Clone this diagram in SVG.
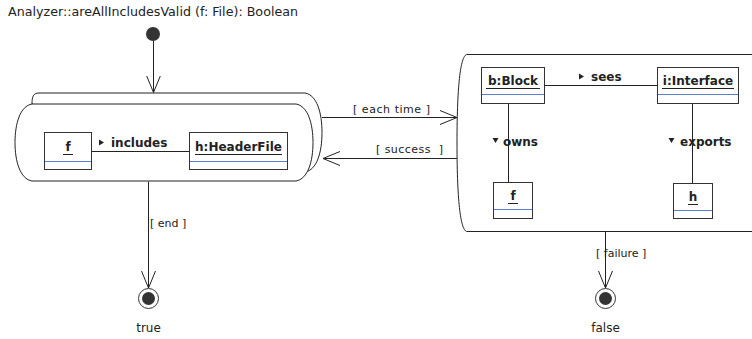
<svg xmlns="http://www.w3.org/2000/svg" width="752" height="339" viewBox="0 0 752 339">
  <style>
    .region { fill: #ffffff; stroke: #222222; stroke-width: 1; }
    .obj { fill: #ffffff; stroke: #333333; stroke-width: 1; }
    .sep { stroke: #5a7fd0; stroke-width: 1; }
    .ul { stroke: #222222; stroke-width: 1; }
    .link { stroke: #222222; stroke-width: 1; fill: none; }
    .flow { stroke: #222222; stroke-width: 1; fill: none; }
    .title { font-family: "DejaVu Sans", sans-serif; font-size: 12.5px; fill: #222222; }
    .name { font-family: "DejaVu Sans", sans-serif; font-weight: bold; font-size: 12px; fill: #222222; }
    .assoc { font-family: "DejaVu Sans", sans-serif; font-weight: bold; font-size: 12px; fill: #222222; }
    .guard { font-family: "DejaVu Sans", sans-serif; font-size: 11px; fill: #222222; }
    .state { font-family: "DejaVu Sans", sans-serif; font-size: 12px; fill: #222222; }
    .dot { fill: #333333; }
    .tri { fill: #222222; }
  </style>
  <defs>
    <marker id="open" viewBox="0 0 18 16" refX="17" refY="8" markerWidth="18" markerHeight="16" markerUnits="userSpaceOnUse" orient="auto">
      <path d="M0 1 L17 8 L0 15" fill="none" stroke="#222222" stroke-width="1"/>
    </marker>
  </defs>

  <rect width="752" height="339" fill="#ffffff"/>

  <text class="title" x="8" y="16" textLength="290" lengthAdjust="spacingAndGlyphs">Analyzer::areAllIncludesValid (f: File): Boolean</text>

  <!-- initial state -->
  <g id="initial">
    <circle class="dot" cx="153" cy="34" r="7"/>
  </g>

  <!-- expansion region iterating over includes -->
  <g id="includes-region">
    <path class="region" d="M32 104 C32 97 33 93 39 93 H305 C317 95 322 113 322 132.5 C322 152 317 170 305 172 H296 Z"/>
    <path class="region" d="M32 104 H296 C308 106 313 124 313 142.5 C313 161 308 179 296 181 H32 C20 179 15 161 15 142.5 C15 124 20 106 32 104 Z"/>
  </g>

  <g id="obj-f-left">
    <rect class="obj" x="44.5" y="132.5" width="47" height="37"/>
    <text class="name" x="68" y="151" text-anchor="middle">f</text>
    <line class="ul" x1="63" y1="154.5" x2="73" y2="154.5"/>
    <line class="sep" x1="45" y1="161.5" x2="91" y2="161.5"/>
  </g>

  <g id="obj-headerfile">
    <rect class="obj" x="189.5" y="132.5" width="98" height="37"/>
    <text class="name" x="238.5" y="151" text-anchor="middle">h:HeaderFile</text>
    <line class="ul" x1="195" y1="154.5" x2="282" y2="154.5"/>
    <line class="sep" x1="190" y1="161.5" x2="287" y2="161.5"/>
  </g>

  <!-- region evaluated for each include -->
  <g id="check-region">
    <path class="region" d="M467 54.5 H770 V231.5 H467 C461 231 457 205 457 143 C457 81 461 55 467 54.5 Z"/>
  </g>

  <g id="obj-block">
    <rect class="obj" x="481.5" y="67.5" width="63" height="36"/>
    <text class="name" x="513" y="85" text-anchor="middle">b:Block</text>
    <line class="ul" x1="486" y1="88.5" x2="540" y2="88.5"/>
    <line class="sep" x1="482" y1="94.5" x2="544" y2="94.5"/>
  </g>

  <g id="obj-interface">
    <rect class="obj" x="657.5" y="67.5" width="81" height="36"/>
    <text class="name" x="698" y="85" text-anchor="middle">i:Interface</text>
    <line class="ul" x1="662" y1="88.5" x2="734" y2="88.5"/>
    <line class="sep" x1="658" y1="94.5" x2="738" y2="94.5"/>
  </g>

  <g id="obj-f-right">
    <rect class="obj" x="493.5" y="182.5" width="39" height="36"/>
    <text class="name" x="513" y="200" text-anchor="middle">f</text>
    <line class="ul" x1="508" y1="203.5" x2="518" y2="203.5"/>
    <line class="sep" x1="494" y1="209.5" x2="532" y2="209.5"/>
  </g>

  <g id="obj-h">
    <rect class="obj" x="673.5" y="183.5" width="39" height="35"/>
    <text class="name" x="693" y="201" text-anchor="middle">h</text>
    <line class="ul" x1="688" y1="204.5" x2="698" y2="204.5"/>
    <line class="sep" x1="674" y1="210.5" x2="712" y2="210.5"/>
  </g>

  <!-- final states -->
  <g id="final-true">
    <circle cx="148.5" cy="298.5" r="10" fill="#ffffff" stroke="#333333" stroke-width="1"/>
    <circle class="dot" cx="148.5" cy="298.5" r="6.5"/>
    <text class="state" x="148.5" y="332" text-anchor="middle">true</text>
  </g>

  <g id="final-false">
    <circle cx="605.5" cy="298.5" r="10" fill="#ffffff" stroke="#333333" stroke-width="1"/>
    <circle class="dot" cx="605.5" cy="298.5" r="6.5"/>
    <text class="state" x="605.5" y="332" text-anchor="middle">false</text>
  </g>

  <!-- connectors -->
  <g id="connectors">
    <line class="link" x1="91.5" y1="151.5" x2="189.5" y2="151.5"/>
    <polygon class="tri" points="99,139.5 104,142.5 99,145.5"/>
    <text class="assoc" x="111" y="147">includes</text>

    <line class="link" x1="544.5" y1="85.5" x2="657.5" y2="85.5"/>
    <polygon class="tri" points="579,73.5 584,76.5 579,79.5"/>
    <text class="assoc" x="591" y="81">sees</text>

    <line class="link" x1="508.5" y1="103.5" x2="508.5" y2="182.5"/>
    <polygon class="tri" points="492.5,138 498.5,138 495.5,143"/>
    <text class="assoc" x="503" y="146">owns</text>

    <line class="link" x1="692.5" y1="103.5" x2="692.5" y2="183.5"/>
    <polygon class="tri" points="668.5,138 674.5,138 671.5,143"/>
    <text class="assoc" x="680" y="146">exports</text>

    <line class="flow" x1="153.5" y1="41" x2="153.5" y2="92.5" marker-end="url(#open)"/>

    <line class="flow" x1="322" y1="117.5" x2="457" y2="117.5" marker-end="url(#open)"/>
    <text class="guard" x="353" y="113" textLength="77">[ each time ]</text>

    <line class="flow" x1="457" y1="158.5" x2="323" y2="158.5" marker-end="url(#open)"/>
    <text class="guard" x="376" y="153" textLength="67" xml:space="preserve">[ success  ]</text>

    <line class="flow" x1="148.5" y1="181.5" x2="148.5" y2="288" marker-end="url(#open)"/>
    <text class="guard" x="150" y="227">[ end ]</text>

    <line class="flow" x1="605.5" y1="231.5" x2="605.5" y2="288" marker-end="url(#open)"/>
    <text class="guard" x="596" y="257">[ failure ]</text>
  </g>
</svg>
